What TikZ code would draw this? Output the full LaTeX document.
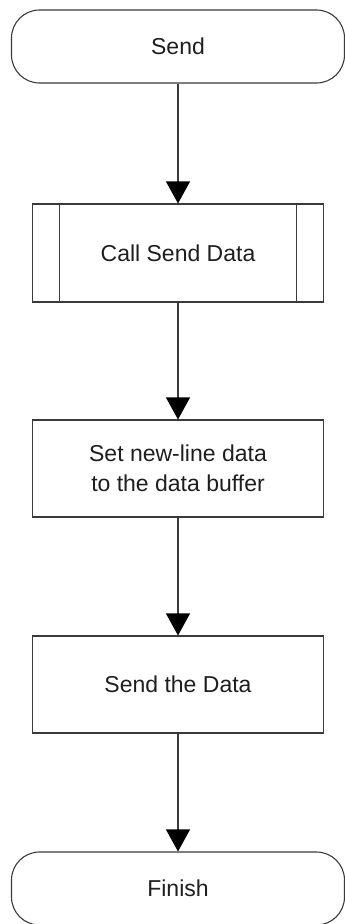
\documentclass[tikz,border=0pt]{standalone}
\usepackage{fontspec}
\setmainfont{Liberation Sans}
\usetikzlibrary{arrows.meta}
\definecolor{linegray}{HTML}{3A3A3A}
\definecolor{textgray}{HTML}{1E1E1E}
\begin{document}
\begin{tikzpicture}[x=1pt, y=-1pt,
    every node/.style={font=\fontsize{23}{30}\selectfont, text=textgray, align=center},
    terminal/.style={draw=linegray, line width=1.1pt, rounded corners=28pt,
        minimum width=333pt, minimum height=73pt, inner sep=0pt},
    process/.style={draw=linegray, line width=1.1pt,
        minimum width=291pt, minimum height=97pt, inner sep=0pt},
    subproc/.style={process, minimum height=98pt,
        path picture={
            \draw[linegray, line width=1.1pt]
                ([xshift=27pt]path picture bounding box.north west) --
                ([xshift=27pt]path picture bounding box.south west);
            \draw[linegray, line width=1.1pt]
                ([xshift=-27pt]path picture bounding box.north east) --
                ([xshift=-27pt]path picture bounding box.south east);
        }},
    flow/.style={draw=linegray, line width=1.1pt,
        -{Triangle[width=24pt, length=22pt, fill=black, color=black]}}
]
    \useasboundingbox (0, 0) rectangle (345, 924);

    % Start
    \node[terminal] (send) at (178, 46.5) {Send};

    % Call the subroutine
    \node[subproc] (call) at (178, 253) {Call Send Data};

    % Buffer
    \node[process] (setline) at (178, 468.5) {Set new-line data\\to the data buffer};

    % Transmit
    \node[process] (senddata) at (178, 684.5) {Send the Data};

    % End
    \node[terminal] (finish) at (178, 888.5) {Finish};

    \draw[flow] (send) -- (call);
    \draw[flow] (call) -- (setline);
    \draw[flow] (setline) -- (senddata);
    \draw[flow] (senddata) -- (finish);
\end{tikzpicture}
\end{document}
